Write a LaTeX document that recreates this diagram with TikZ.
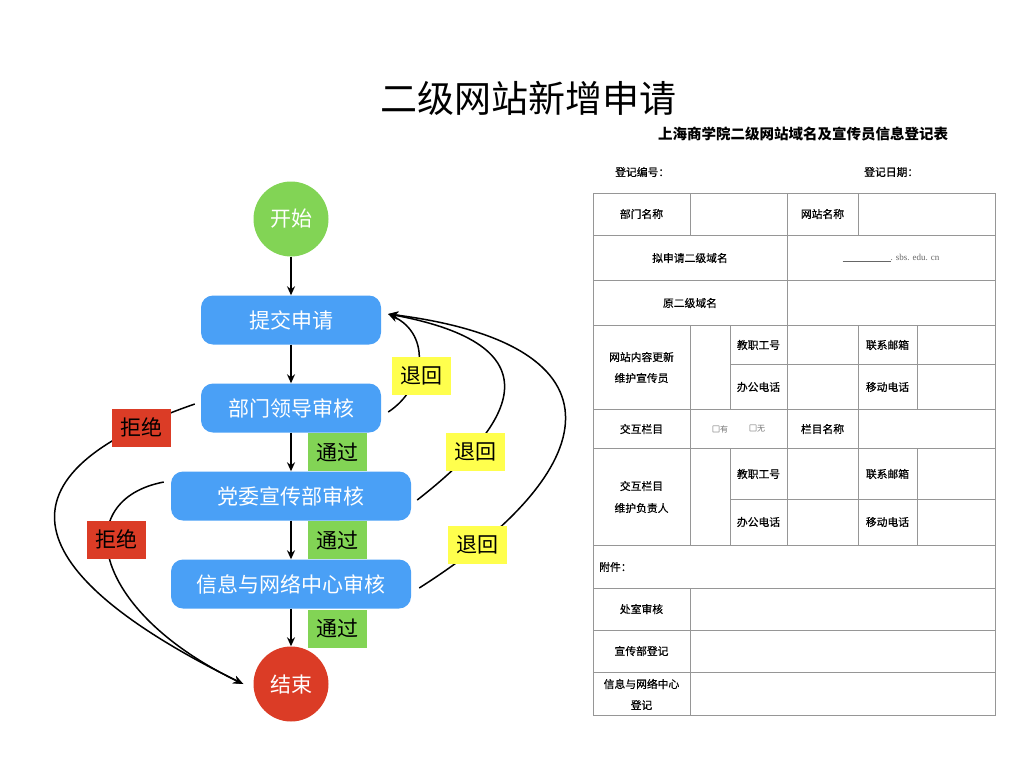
\documentclass[tikz,border=0pt]{standalone}
\usepackage{fontspec}
\setmainfont{Noto Sans CJK SC}
\newfontfamily\cellfont[FakeBold=0.6]{Noto Sans CJK SC}
\newfontfamily\latinserif{Liberation Serif}
\usetikzlibrary{arrows.meta}
\definecolor{fblue}{RGB}{74,160,246}
\definecolor{fgreen}{RGB}{130,212,85}
\definecolor{fred}{RGB}{219,60,38}
\definecolor{fyellow}{RGB}{255,255,77}
\definecolor{tgray}{RGB}{150,150,150}
\begin{document}
\begin{tikzpicture}[x=1pt,y=-1pt,
  proc/.style={rectangle, rounded corners=12pt, fill=fblue, text=white, minimum width=180pt, minimum height=49pt, inner sep=0pt, font=\fontsize{21}{24}\selectfont},
  term/.style={circle, minimum size=75pt, inner sep=0pt, text=white, font=\fontsize{21}{24}\selectfont},
  lab/.style={rectangle, minimum width=59pt, minimum height=38pt, inner sep=0pt, font=\fontsize{21}{24}\selectfont},
  flow/.style={line width=2pt, -{Stealth[length=9pt,width=8pt]}},
  back/.style={line width=1.5pt, -{Stealth[length=10pt,width=8pt]}},
  tline/.style={draw=tgray, line width=1pt},
  cell/.style={inner sep=0pt, font=\cellfont\fontsize{10.8}{13}\selectfont}
]
\useasboundingbox (0,0) rectangle (1024,768);

% title
\node[font=\fontsize{37}{42}\selectfont] (title) at (528,98) {二级网站新增申请};

% flowchart nodes
\node[term, fill=fgreen] (start) at (291,219) {开始};
\node[proc] (p1) at (291,320) {提交申请};
\node[proc] (p2) at (291,408) {部门领导审核};
\node[proc, minimum width=240pt] (p3) at (291,496) {党委宣传部审核};
\node[proc, minimum width=240pt] (p4) at (291,584) {信息与网络中心审核};
\node[term, fill=fred] (end) at (291,684) {结束};

% vertical arrows
\draw[flow] (start.south) -- (p1.north);
\draw[flow] (p1.south) -- (p2.north);
\draw[flow] (p2.south) -- (p3.north);
\draw[flow] (p3.south) -- (p4.north);
\draw[flow] (p4.south) -- (end.north);

% return curves
\coordinate (tip) at ([xshift=7pt,yshift=6pt]p1.east);
\draw[back] ([xshift=7pt,yshift=-4pt]p2.east) .. controls (425,388) and (432,335) .. (tip);
\draw[back] ([xshift=6pt,yshift=-4pt]p3.east) .. controls (520,420) and (555,345) .. (tip);
\draw[back] ([xshift=8pt,yshift=-4pt]p4.east) .. controls (605,470) and (632,345) .. (tip);

% reject curves
\coordinate (rtip) at ([xshift=-10pt]end.west);
\draw[back] ([xshift=-6pt,yshift=4pt]p2.west) .. controls (-25,480) and (32,580) .. (rtip);
\draw[back] ([xshift=-7pt,yshift=14pt]p3.west) .. controls (70,500) and (90,610) .. (rtip);

% labels
\node[lab, fill=fgreen] (pass1) at (337.5,452) {通过};
\node[lab, fill=fgreen] (pass2) at (337.5,540) {通过};
\node[lab, fill=fgreen] (pass3) at (337.5,628.5) {通过};
\node[lab, fill=fyellow] (ret1) at (421.5,376) {退回};
\node[lab, fill=fyellow] (ret2) at (475.5,452) {退回};
\node[lab, fill=fyellow] (ret3) at (477.5,544.5) {退回};
\node[lab, fill=fred] (rej1) at (141.5,427.5) {拒绝};
\node[lab, fill=fred] (rej2) at (116.5,539.5) {拒绝};

% form
\node[font=\bfseries\fontsize{14.5}{17}\selectfont] (ftitle) at (803,134) {上海商学院二级网站域名及宣传员信息登记表};
\node[cell, anchor=west] (regno) at (615,172) {登记编号：};
\node[cell, anchor=west] (regdate) at (864,172) {登记日期：};

\draw[tline] (593,193) rectangle (995,715);
\foreach \yy in {235,280,325,409,448,545,588,630,672}
  \draw[tline] (593,\yy) -- (995,\yy);
\draw[tline] (730,364) -- (995,364);
\draw[tline] (730,499) -- (995,499);
\draw[tline] (690,193) -- (690,235);
\draw[tline] (690,325) -- (690,545);
\draw[tline] (690,588) -- (690,715);
\draw[tline] (730,325) -- (730,409);
\draw[tline] (730,448) -- (730,545);
\draw[tline] (787,193) -- (787,545);
\draw[tline] (858,193) -- (858,235);
\draw[tline] (858,325) -- (858,545);
\draw[tline] (917,325) -- (917,409);
\draw[tline] (917,448) -- (917,545);

\node[cell] (c1) at (641.5,214) {部门名称};
\node[cell] (c2) at (822.5,214) {网站名称};
\node[cell] (c3) at (690,258) {拟申请二级域名};
\node[inner sep=0pt, text=black!60, font=\latinserif\fontsize{9}{11}\selectfont] (c4) at (891,258) {\rule[-1.5pt]{48pt}{0.6pt}. sbs. edu. cn};
\node[cell] (c5) at (690,303) {原二级域名};
\node[cell] (c6a) at (641.5,357) {网站内容更新};
\node[cell] (c6b) at (641.5,378) {维护宣传员};
\node[cell] (c7) at (758.5,345) {教职工号};
\node[cell] (c8) at (758.5,387) {办公电话};
\node[cell] (c9) at (887.5,345) {联系邮箱};
\node[cell] (c10) at (887.5,387) {移动电话};
\node[cell] (c11) at (641.5,429) {交互栏目};
\node[inner sep=0pt, font=\fontsize{8}{10}\selectfont] (c12) at (720,429) {□\textcolor{black!55}{有}};
\node[inner sep=0pt, font=\fontsize{8}{10}\selectfont] (c13) at (757,429) {□\textcolor{black!55}{无}};
\node[cell] (c14) at (822.5,429) {栏目名称};
\node[cell] (c15a) at (641.5,486) {交互栏目};
\node[cell] (c15b) at (641.5,508) {维护负责人};
\node[cell] (c16) at (758.5,474) {教职工号};
\node[cell] (c17) at (758.5,522) {办公电话};
\node[cell] (c18) at (887.5,474) {联系邮箱};
\node[cell] (c19) at (887.5,522) {移动电话};
\node[cell, anchor=west] (c20) at (599,567) {附件：};
\node[cell] (c21) at (641.5,609) {处室审核};
\node[cell] (c22) at (641.5,651) {宣传部登记};
\node[cell] (c23a) at (641.5,684) {信息与网络中心};
\node[cell] (c23b) at (641.5,705) {登记};
\end{tikzpicture}
\end{document}
